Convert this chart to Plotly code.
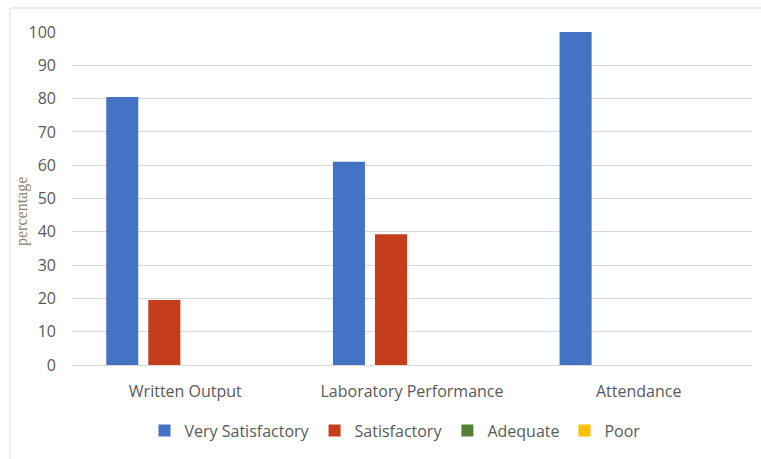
import plotly.graph_objects as go

categories = ["Written Output", "Laboratory Performance", "Attendance"]
very_satisfactory = [80.5, 61, 100]
satisfactory = [19.5, 39.3, 0]
adequate = [0, 0, 0]
poor = [0, 0, 0]

series = [
    ("Very Satisfactory", very_satisfactory, "#4472C4"),
    ("Satisfactory", satisfactory, "#C43E1C"),
    ("Adequate", adequate, "#548235"),
    ("Poor", poor, "#FFC000"),
]

fig = go.Figure()
for name, vals, color in series:
    fig.add_trace(go.Bar(x=categories, y=vals, name=name, marker_color=color,
                         marker_line_width=0))

L, R, T, B = 72, 9, 32, 94
PW = 761 - L - R
PH = 459 - T - B

font_family = "Open Sans, Liberation Sans, sans-serif"
fig.update_layout(
    width=761, height=459,
    margin=dict(l=L, r=R, t=T, b=B, autoexpand=False),
    paper_bgcolor="white", plot_bgcolor="white",
    barmode="group", bargap=0.258, bargroupgap=0.238,
    font=dict(family=font_family, size=16, color="#595959"),
    legend=dict(orientation="h", x=0.5 - 17 / PW, xanchor="center",
                yref="container", y=0.025, yanchor="bottom",
                font=dict(size=16, color="#595959"), itemwidth=30,
                traceorder="normal"),
    showlegend=True,
)
fig.update_yaxes(range=[0, 100], dtick=10, showgrid=True, gridcolor="#D9D9D9",
                 gridwidth=1, zeroline=False, showline=False, automargin=False,
                 ticklabelstandoff=15,
                 tickfont=dict(size=16, color="#595959"))
fig.update_xaxes(showline=True, linecolor="#D9D9D9", linewidth=1, showgrid=False,
                 ticks="", ticklabelstandoff=12, automargin=False,
                 tickfont=dict(size=16, color="#595959"))
fig.add_annotation(text="percentage", textangle=-90, xref="paper", yref="paper",
                   x=(22 - L) / PW, y=(365 - 212) / PH, xanchor="center",
                   yanchor="middle", showarrow=False,
                   font=dict(family="Liberation Serif, Times New Roman, serif",
                             size=16, color="#8E8272"))
# outer chart frame (top and left edges only visible)
fig.add_shape(type="line", xref="paper", yref="paper",
              x0=(10 - L) / PW, x1=(761 - L) / PW, y0=(365 - 8) / PH, y1=(365 - 8) / PH,
              line=dict(color="#D9D9D9", width=1))
fig.add_shape(type="line", xref="paper", yref="paper",
              x0=(10 - L) / PW, x1=(10 - L) / PW, y0=(365 - 8) / PH, y1=(365 - 470) / PH,
              line=dict(color="#D9D9D9", width=1))
fig.write_html("out.html")
